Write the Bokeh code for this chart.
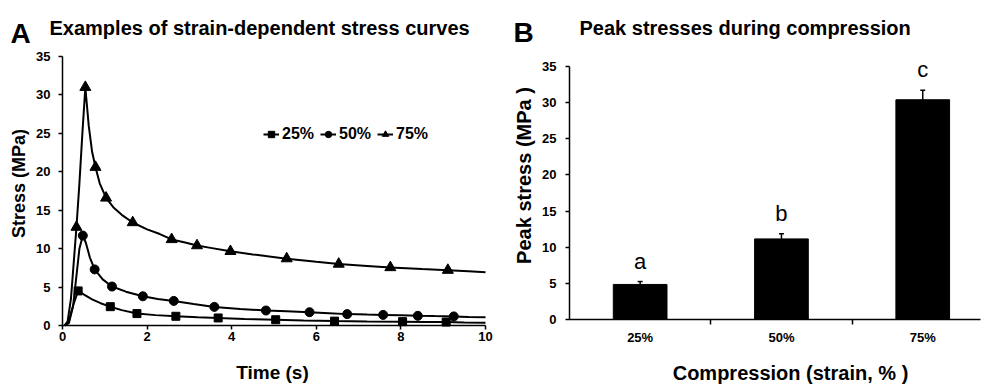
import math
from bokeh.plotting import figure
from bokeh.layouts import row
from bokeh.models import (Legend, LegendItem, FixedTicker, Label, Whisker, TeeHead,
                          ColumnDataSource)
from bokeh.core.properties import value
from bokeh.embed import file_html
from bokeh.resources import INLINE

FONT = "Liberation Sans"

# ---------------- Panel A data ----------------
t_line25 = [0.05, 0.15, 0.25, 0.37, 0.5, 0.7, 0.9, 1.13, 1.4, 1.76, 2.2, 2.68, 3.2, 3.68,
            4.3, 5.04, 5.7, 6.43, 7.2, 8.04, 8.6, 9.07, 9.5, 10.0]
s_line25 = [0.0, 0.6, 2.6, 4.5, 4.05, 3.4, 2.9, 2.45, 2.0, 1.55, 1.35, 1.2, 1.08, 0.98,
            0.86, 0.75, 0.65, 0.57, 0.52, 0.5, 0.47, 0.45, 0.4, 0.35]
t_mark25 = [0.37, 1.13, 1.76, 2.68, 3.68, 5.04, 6.43, 8.04, 9.07]
s_mark25 = [4.5, 2.45, 1.55, 1.2, 0.98, 0.75, 0.57, 0.5, 0.45]

t_line50 = [0.05, 0.15, 0.25, 0.33, 0.4, 0.48, 0.55, 0.65, 0.76, 0.95, 1.17, 1.5, 1.9,
            2.25, 2.63, 3.1, 3.59, 4.2, 4.81, 5.3, 5.84, 6.3, 6.73, 7.2, 7.58, 8.0, 8.4,
            8.8, 9.25, 9.6, 10.0]
s_line50 = [0.0, 0.3, 2.5, 6.5, 10.0, 11.7, 10.8, 8.8, 7.3, 6.0, 5.07, 4.4, 3.8, 3.45,
            3.2, 2.8, 2.42, 2.15, 1.95, 1.85, 1.73, 1.6, 1.48, 1.42, 1.38, 1.32, 1.26,
            1.22, 1.18, 1.12, 1.08]
t_mark50 = [0.48, 0.76, 1.17, 1.9, 2.63, 3.59, 4.81, 5.84, 6.73, 7.58, 8.4, 9.25]
s_mark50 = [11.7, 7.3, 5.07, 3.8, 3.2, 2.42, 1.95, 1.73, 1.48, 1.38, 1.26, 1.18]

t_line75 = [0.05, 0.12, 0.2, 0.27, 0.33, 0.4, 0.47, 0.54, 0.62, 0.7, 0.78, 0.88, 1.03,
            1.2, 1.4, 1.66, 2.0, 2.3, 2.58, 2.9, 3.18, 3.5, 3.97, 4.5, 5.3, 6.0, 6.53,
            7.2, 7.75, 8.5, 9.11, 9.6, 10.0]
s_line75 = [0.0, 0.5, 3.5, 8.5, 12.8, 18.5, 25.0, 31.0, 26.0, 22.6, 20.6, 18.5, 16.6,
            15.4, 14.4, 13.4, 12.5, 11.9, 11.2, 10.8, 10.4, 10.1, 9.65, 9.25, 8.7, 8.3,
            8.0, 7.75, 7.55, 7.35, 7.2, 7.05, 6.93]
t_mark75 = [0.33, 0.54, 0.78, 1.03, 1.66, 2.58, 3.18, 3.97, 5.3, 6.53, 7.75, 9.11]
s_mark75 = [12.8, 31.0, 20.6, 16.6, 13.4, 11.2, 10.4, 9.65, 8.7, 8.0, 7.55, 7.2]

legend_labels = ["25%", "50%", "75%"]
x_ticks_a = [0, 2, 4, 6, 8, 10]
y_ticks = [0, 5, 10, 15, 20, 25, 30, 35]

# ---------------- Panel B data ----------------
strain_labels = ["25%", "50%", "75%"]
bar_pos = [0.5, 1.5, 2.5]
peak_stress = [4.85, 11.15, 30.4]
peak_err = [0.4, 0.7, 1.3]
sig_letters = ["a", "b", "c"]
boundary_ticks = [1, 2]


def style_axes(p, tick_size):
    for ax in (p.xaxis[0], p.yaxis[0]):
        ax.fixed_location = 0
        ax.axis_line_color = "black"
        ax.axis_line_width = 1.5
        ax.major_tick_line_color = "black"
        ax.major_tick_line_width = 1.5
        ax.major_tick_in = 0
        ax.major_tick_out = 4
        ax.minor_tick_line_color = None
        ax.major_label_text_font = FONT
        ax.major_label_text_font_style = "bold"
        ax.major_label_text_font_size = tick_size
        ax.major_label_text_color = "black"
    p.grid.visible = False
    p.outline_line_color = None
    p.background_fill_color = "white"
    p.border_fill_color = "white"


def text_label(p, x, y, txt, size, bold=True, angle=0.0, align="left",
               baseline="alphabetic"):
    p.add_layout(Label(x=x, y=y, x_units="screen", y_units="screen", text=txt,
                       angle=angle, text_align=align, text_baseline=baseline,
                       text_font=FONT, text_font_style="bold" if bold else "normal",
                       text_font_size=size, text_color="black"))


# ================= Panel A =================
# the plot frame covers the whole canvas; axes sit at data 0 and are bounded
pa = figure(width=500, height=384, x_range=(-1.4657, 10.3546),
            y_range=(-7.6766, 42.286), output_backend="svg",
            toolbar_location=None, title=None, min_border=0,
            min_border_left=0, min_border_right=0, min_border_top=0,
            min_border_bottom=0)
style_axes(pa, "13px")
pa.xaxis.ticker = FixedTicker(ticks=x_ticks_a)
pa.yaxis.ticker = FixedTicker(ticks=y_ticks)
pa.xaxis.bounds = (0, 10)
pa.yaxis.bounds = (0, 35)
pa.xaxis.major_label_standoff = 3
pa.yaxis.major_label_standoff = 8

l25 = pa.line(t_line25, s_line25, line_color="black", line_width=2)
m25 = pa.scatter(t_mark25, s_mark25, marker="square", size=8, color="black")
l50 = pa.line(t_line50, s_line50, line_color="black", line_width=2)
m50 = pa.scatter(t_mark50, s_mark50, marker="circle", size=9, color="black")
l75 = pa.line(t_line75, s_line75, line_color="black", line_width=2)
m75 = pa.scatter(t_mark75, s_mark75, marker="triangle", size=11, color="black")

leg = Legend(items=[LegendItem(label=legend_labels[0], renderers=[l25, m25]),
                    LegendItem(label=legend_labels[1], renderers=[l50, m50]),
                    LegendItem(label=legend_labels[2], renderers=[l75, m75])],
             orientation="horizontal", location=(263, 241),
             border_line_color=None, background_fill_alpha=0,
             label_text_font=FONT, label_text_font_style="bold",
             label_text_font_size="16px", label_text_color="black",
             glyph_width=16, glyph_height=16, label_standoff=3, spacing=6,
             padding=0, margin=0)
pa.add_layout(leg)

text_label(pa, 10, 351, "A", "28px")
text_label(pa, 49, 357, "Examples of strain-dependent stress curves", "20px")
text_label(pa, 18, 201, "Stress (MPa)", "18px", angle=math.pi / 2, align="center",
           baseline="middle")
text_label(pa, 272, 12, "Time (s)", "19px", align="center", baseline="middle")

# ================= Panel B =================
pb = figure(width=482, height=384, x_range=(-0.4883, 2.9229),
            y_range=(-8.992, 44.130), output_backend="svg",
            toolbar_location=None, title=None, min_border=0,
            min_border_left=0, min_border_right=0, min_border_top=0,
            min_border_bottom=0)
style_axes(pb, "13px")
pb.yaxis.ticker = FixedTicker(ticks=y_ticks)
pb.yaxis.bounds = (0, 35)
pb.xaxis.bounds = (0, 2.909)
pb.xaxis.ticker = FixedTicker(ticks=bar_pos, minor_ticks=boundary_ticks)
pb.xaxis.major_label_overrides = {bar_pos[i]: strain_labels[i] for i in range(3)}
pb.xaxis.major_tick_line_color = None
pb.xaxis.major_tick_out = 0
pb.xaxis.minor_tick_line_color = "black"
pb.xaxis.minor_tick_line_width = 1.5
pb.xaxis.minor_tick_in = 0
pb.xaxis.minor_tick_out = 5
pb.xaxis.major_label_standoff = 5
pb.yaxis.major_label_standoff = 9

src = ColumnDataSource(dict(x=bar_pos, top=peak_stress,
                            upper=[v + e for v, e in zip(peak_stress, peak_err)],
                            letter=sig_letters))
pb.vbar(x="x", top="top", width=0.38, source=src, fill_color="black",
        line_color="black")
pb.add_layout(Whisker(source=src, base="x", lower="top", upper="upper",
                      line_color="black", line_width=1.5, lower_head=None,
                      upper_head=TeeHead(size=5, line_color="black", line_width=1.5)))
pb.text(x="x", y="upper", text="letter", source=src, text_align="center",
        text_baseline="bottom", y_offset=-8, text_font=value(FONT),
        text_font_size="22px", text_color="black")

text_label(pb, 13, 352, "B", "28px")
text_label(pb, 79, 357, "Peak stresses during compression", "20px")
text_label(pb, 23, 209, "Peak stress (MPa )", "20px", angle=math.pi / 2,
           align="center", baseline="middle")
text_label(pb, 290, 12, "Compression (strain, % )", "20px", align="center",
           baseline="middle")

layout = row(pa, pb)
open("out.html", "w").write(file_html(layout, INLINE))
